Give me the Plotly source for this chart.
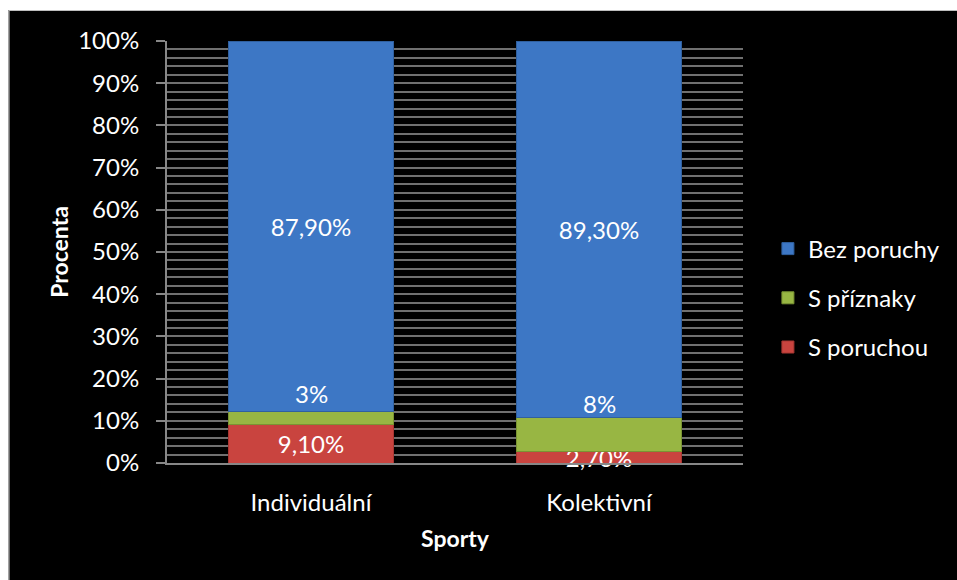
import plotly.graph_objects as go

# Sport groups and share of each diagnosis category (in %)
sporty = ["Individuální", "Kolektivní"]
s_poruchou = [9.1, 2.7]
s_priznaky = [3.0, 8.0]
bez_poruchy = [87.9, 89.3]

# Printed labels (Czech decimal comma)
lbl_poruchou = ["9,10%", "2,70%"]
lbl_priznaky = ["3%", "8%"]
lbl_bez = ["87,90%", "89,30%"]

y_ticks = [0, 10, 20, 30, 40, 50, 60, 70, 80, 90, 100]
y_tick_text = [f"{v}%" for v in y_ticks]

FONT = "Lato"
GRID = "#707070"
AXIS = "#878787"
FS = 24

fig = go.Figure()
fig.add_trace(go.Bar(
    name="S poruchou", x=sporty, y=s_poruchou,
    marker=dict(color="#c9443f", line=dict(color="#a83632", width=1)),
    text=lbl_poruchou, textposition="inside", insidetextanchor="middle",
    constraintext="none", textangle=0, cliponaxis=False,
    textfont=dict(color="white", size=FS, family=FONT),
    legendgroup="a", legendrank=3,
))
fig.add_trace(go.Bar(
    name="S příznaky", x=sporty, y=s_priznaky,
    marker=dict(color="#98b643", line=dict(color="#7a9433", width=1)),
    legendgroup="b", legendrank=2,
))
fig.add_trace(go.Bar(
    name="Bez poruchy", x=sporty, y=bez_poruchy,
    marker=dict(color="#3d77c5", line=dict(color="#30609f", width=1)),
    text=lbl_bez, textposition="inside", insidetextanchor="middle",
    constraintext="none", textangle=0, cliponaxis=False,
    textfont=dict(color="white", size=FS, family=FONT),
    legendgroup="c", legendrank=1,
))

# Labels of the thin middle segment sit just above it
shifts = [18, 14]
for i, cat in enumerate(sporty):
    top = s_poruchou[i] + s_priznaky[i]
    fig.add_annotation(
        x=cat, y=top, text=lbl_priznaky[i], showarrow=False,
        yshift=shifts[i], yanchor="middle",
        font=dict(color="white", size=FS, family=FONT),
    )

# Page frame: white margin strip on the top and left around the black chart area
L, R, T, B = 167, 212, 41, 117
W, H = 957, 580
pw, ph = W - L - R, H - T - B
def px_x(p):
    return (p - L) / pw
def px_y(p):
    return (H - B - p) / ph

fig.add_shape(type="rect", xref="paper", yref="paper",
              x0=px_x(-5), x1=px_x(8), y0=px_y(H + 5), y1=px_y(-5),
              fillcolor="white", line=dict(width=0), layer="above")
fig.add_shape(type="rect", xref="paper", yref="paper",
              x0=px_x(-5), x1=px_x(W + 5), y0=px_y(10), y1=px_y(-5),
              fillcolor="white", line=dict(width=0), layer="above")
fig.add_shape(type="line", xref="paper", yref="paper",
              x0=px_x(8.5), x1=px_x(W + 5), y0=px_y(10.5), y1=px_y(10.5),
              line=dict(color="#bdbdbd", width=1), layer="above")
fig.add_shape(type="line", xref="paper", yref="paper",
              x0=px_x(8.5), x1=px_x(8.5), y0=px_y(10.5), y1=px_y(H + 5),
              line=dict(color="#bdbdbd", width=1), layer="above")

fig.update_layout(
    width=W, height=H,
    margin=dict(l=L, r=R, t=T, b=B, pad=0),
    paper_bgcolor="black", plot_bgcolor="black",
    barmode="stack", bargap=0.43,
    font=dict(family=FONT, color="white", size=FS),
    showlegend=True,
    legend=dict(
        x=px_x(770), xanchor="left", y=px_y(298), yanchor="middle",
        traceorder="grouped", tracegroupgap=15,
        font=dict(size=FS, color="white", family=FONT),
        bgcolor="rgba(0,0,0,0)",
    ),
    xaxis=dict(
        showline=True, linecolor=AXIS, linewidth=2,
        ticks="", showgrid=False,
        tickfont=dict(size=FS, color="white", family=FONT),
        ticklabelstandoff=17,
        title=dict(text="<b>Sporty</b>", font=dict(size=23, color="white", family=FONT),
                   standoff=16),
        automargin=False,
    ),
    yaxis=dict(
        range=[0, 100],
        tickvals=y_ticks, ticktext=y_tick_text,
        showline=True, linecolor=AXIS, linewidth=2,
        ticks="outside", ticklen=9, tickwidth=2, tickcolor=AXIS,
        showgrid=True, gridcolor=GRID, gridwidth=2,
        minor=dict(dtick=2, showgrid=True, gridcolor=GRID, gridwidth=2, ticks=""),
        zeroline=False,
        tickfont=dict(size=FS, color="white", family=FONT),
        ticklabelstandoff=12,
        title=dict(text="<b>Procenta</b>", font=dict(size=23, color="white", family=FONT),
                   standoff=3),
        automargin=False,
    ),
)

fig.write_html("out.html")
